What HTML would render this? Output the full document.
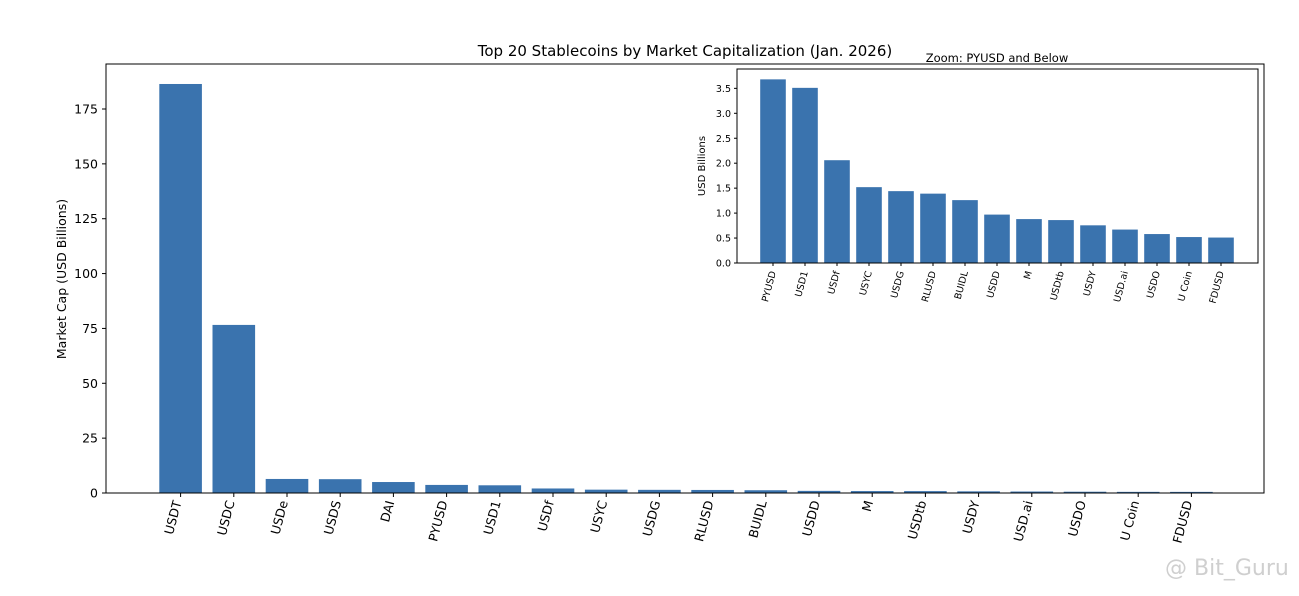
<!DOCTYPE html>
<html><head><meta charset="utf-8"><style>
body{margin:0;background:#fff;font-family:"Liberation Sans","DejaVu Sans",sans-serif}
svg text{font-family:"DejaVu Sans","Liberation Sans",sans-serif;fill:#000}
</style></head><body>
<svg id="c" width="1299" height="591" xmlns="http://www.w3.org/2000/svg"></svg>
<script>
const categories=["USDT","USDC","USDe","USDS","DAI","PYUSD","USD1","USDf","USYC","USDG","RLUSD","BUIDL","USDD","M","USDtb","USDY","USD.ai","USDO","U Coin","FDUSD"];
const values=[186.4,76.6,6.4,6.3,5.0,3.68,3.51,2.06,1.52,1.44,1.39,1.26,0.97,0.88,0.86,0.755,0.67,0.58,0.52,0.51];
const mainTicks=[0,25,50,75,100,125,150,175];
const zoomTicks=[0,0.5,1,1.5,2,2.5,3,3.5];
const zoomCategories=categories.slice(5);
const zoomValues=values.slice(5);
const svg=document.getElementById('c');
const NS="http://www.w3.org/2000/svg";
function mk(t,a,txt){const e=document.createElementNS(NS,t);for(const k in a)e.setAttribute(k,a[k]);if(txt!==undefined)e.textContent=txt;svg.appendChild(e);return e;}
const M={l:106,r:1264,t:64,b:493};
const mx=i=>180.6+53.2*i, my=v=>M.b-v*(384/175);
categories.forEach((c,i)=>{
 const r=mk('rect',{x:mx(i)-21.3,y:my(values[i]),width:42.6,height:M.b-my(values[i]),fill:'#3a73ae'});
 
 
 mk('line',{x1:mx(i),x2:mx(i),y1:M.b,y2:M.b+4,stroke:'#000'});
 const t=mk('text',{x:0,y:0,'font-size':12.5,'text-anchor':'end',transform:`translate(${mx(i)+1},${M.b+9}) rotate(-75)`},c);
 
 
});
mainTicks.forEach(v=>{
 mk('line',{x1:M.l-4,x2:M.l,y1:my(v),y2:my(v),stroke:'#000'});
 const t=mk('text',{x:M.l-8,y:my(v)+4.5,'font-size':12.5,'text-anchor':'end'},v);
 
 
});
const fr=mk('rect',{x:M.l,y:M.t,width:M.r-M.l,height:M.b-M.t,fill:'none',stroke:'#000','stroke-width':1});


const ti=mk('text',{x:685,y:56,'font-size':15,'text-anchor':'middle'},'Top 20 Stablecoins by Market Capitalization (Jan. 2026)');


const yl=mk('text',{x:0,y:0,'font-size':12.5,'text-anchor':'middle',transform:'translate(66,279) rotate(-90)'},'Market Cap (USD Billions)');


const Z={l:737,r:1258,t:69,b:263};
mk('rect',{x:Z.l,y:Z.t,width:Z.r-Z.l,height:Z.b-Z.t,fill:'#fff',stroke:'none'});
const zx=i=>773+32*i, zy=v=>Z.b-v*49.9;
zoomCategories.forEach((c,i)=>{
 const r=mk('rect',{x:zx(i)-12.8,y:zy(zoomValues[i]),width:25.6,height:Z.b-zy(zoomValues[i]),fill:'#3a73ae'});
 
 
 mk('line',{x1:zx(i),x2:zx(i),y1:Z.b,y2:Z.b+3,stroke:'#000'});
 const t=mk('text',{x:0,y:0,'font-size':9.5,'text-anchor':'end',transform:`translate(${zx(i)+3},${Z.b+9}) rotate(-75)`},c);
 
 
});
zoomTicks.forEach(v=>{
 mk('line',{x1:Z.l-3,x2:Z.l,y1:zy(v),y2:zy(v),stroke:'#000'});
 const t=mk('text',{x:Z.l-6,y:zy(v)+3.5,'font-size':9.5,'text-anchor':'end'},v.toFixed(1));
 
 
});
const zf=mk('rect',{x:Z.l,y:Z.t,width:Z.r-Z.l,height:Z.b-Z.t,fill:'none',stroke:'#000','stroke-width':1});


const zt=mk('text',{x:997,y:62,'font-size':11.5,'text-anchor':'middle'},'Zoom: PYUSD and Below');


const zl=mk('text',{x:0,y:0,'font-size':10,'text-anchor':'middle',transform:'translate(705,166) rotate(-90)'},'USD Billions');


const wm=mk('text',{x:1165,y:575,'font-size':22,style:'fill:#cfcfcf'},'@ Bit_Guru');


</script>
</body></html>
